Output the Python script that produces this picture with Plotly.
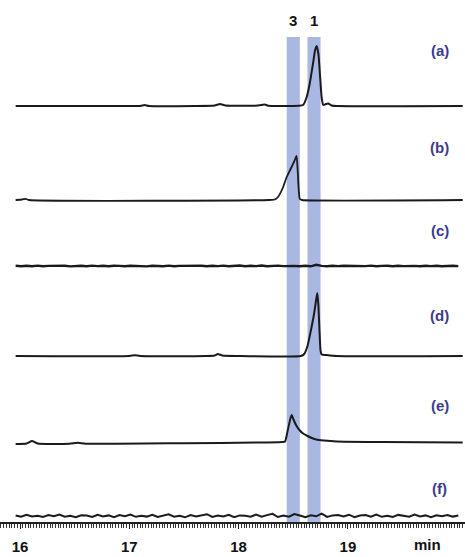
import plotly.graph_objects as go

# ---------------- data (heights above each trace's baseline) -------------
t_a = [15.96, 16.9, 17.10, 17.14, 17.18, 17.6, 17.78, 17.83, 17.88, 18.15, 18.21, 18.24, 18.27,
       18.55, 18.59, 18.62, 18.65, 18.68, 18.70, 18.714, 18.73, 18.745, 18.76, 18.775, 18.80,
       18.82, 18.85, 18.9, 20.05]
h_a = [0, 0, 0, 1, 0, 0, 0.5, 2, 0.5, 0.3, 1, 1.5, 0.3,
       0.3, 1, 8, 22, 42, 56, 60, 52, 30, 8, 1, 2,
       2.5, 0.5, 0, 0]

t_b = [15.96, 16.02, 16.05, 16.08, 18.28, 18.33, 18.36, 18.40, 18.44, 18.48, 18.51, 18.53,
       18.54, 18.55, 18.56, 18.58, 20.05]
h_b = [0, 0.5, 1.2, 0, 0, 0.5, 3, 11, 23, 32, 39, 44,
       30, 10, 1, 0, 0]

c_noise = [0.2, -0.3, 0.3, -0.2, 0.4, -0.3, 0.1, 0.3, -0.2, 0.3, -0.4, 0.1, 0.3, -0.2, 0.4, -0.1,
           0.2, -0.3, 0.3, 0.1, -0.3, 0.3, -0.1, 0.2, -0.4, 0.3, 0.1, -0.2, 0.4, -0.3, 0.1, 0.3,
           -0.2, 0.1, 0.3, -0.3, 0.2, -0.1, 0.4, -0.3, 0.1, 0.5, -0.2, 0.3, -0.1, 0.5, -0.3, 0.2,
           0.4, -0.1, 0.3, 0.1, -0.2, 0.3, -0.3, 1.2, 0.1, -0.3, 0.3, -0.1, 0.3, 0.1, -0.3, 0.2,
           -0.1, 0.4, -0.2, 0.1, 0.3, -0.3, 0.2, -0.1, 0.3, 0.1, -0.3, 0.2, -0.1, 0.3, -0.2, 0.1,
           0.3, -0.1]

t_d = [15.96, 17.0, 17.05, 17.1, 17.7, 17.78, 17.81, 17.85, 18.0, 18.57, 18.60, 18.63, 18.66,
       18.69, 18.71, 18.72, 18.73, 18.74, 18.75, 18.76, 18.8, 18.9, 20.05]
h_d = [0, 0, 0.8, 0, 0, 0.5, 2, 0.5, 0, 0, 2, 10, 25,
       42, 57, 63, 50, 25, 5, 1.5, 1, 0, 0]

t_e = [15.96, 16.06, 16.11, 16.16, 16.45, 16.53, 16.6, 17.5, 18.2, 18.40, 18.425, 18.45, 18.475,
       18.486, 18.50, 18.53, 18.56, 18.59, 18.63, 18.67, 18.71, 18.78, 18.9, 19.3, 20.05]
h_e = [0, 0.5, 3, 0.5, 0.3, 1.2, 0.3, 0.8, 1.5, 2, 2.5, 14, 26,
       29, 25, 18, 13.5, 10.5, 8, 6, 4.5, 3.5, 2.5, 2, 1.5]

f_noise = [0.5, -0.8, 1.2, -0.5, 0.3, -1.0, 0.9, -0.3, 1.4, -0.7, 0.2, -1.1, 0.8, 0.4, -0.9, 1.3,
           -0.4, 0.6, -1.2, 0.9, -0.2, 1.5, -0.8, 0.3, -0.6, 1.1, -1.0, 0.5, 1.6, -0.7, 0.2, -1.3,
           1.0, -0.4, 0.7, 1.8, -0.9, 0.4, -0.5, 1.2, -1.1, 0.6, 0.3, -0.8, 1.4, -0.6, 0.9, 2.2,
           -1.0, 0.4, -0.7, 2.0, 0.5, -1.2, 0.8, -0.3, 2.4, -0.9, 0.6, 1.0, -0.5, 1.3, -1.1, 0.4,
           0.9, -0.6, 1.5, -0.8, 0.3, -1.0, 1.1, 0.2, -0.7, 1.4, -0.4, 0.6, -1.2, 0.8, -0.3, 1.0,
           -0.6, 0.4]

panel_labels = ["(a)", "(b)", "(c)", "(d)", "(e)", "(f)"]
band_labels = ["3", "1"]
band_ranges = [(18.44, 18.56), (18.63, 18.75)]
tick_vals = [16, 17, 18, 19]
tick_text = ["16", "17", "18", "19"]

# ---------------- layout constants ----------------
t_c = [round(15.96 + 0.05 * i, 2) for i in range(len(c_noise))]
t_f = [round(15.96 + 0.05 * i, 2) for i in range(len(f_noise))]

offsets = [416, 322, 256, 166, 78, 6]
label_y = [472, 375, 292, 207, 117, 34]
series = [(t_a, h_a), (t_b, h_b), (t_c, c_noise), (t_d, h_d), (t_e, h_e), (t_f, f_noise)]
widths = [2.0, 1.8, 2.4, 2.0, 2.0, 2.0]
shapes = ["spline", "spline", "linear", "spline", "spline", "linear"]

fig = go.Figure()
for (t, h), off, w, sh in zip(series, offsets, widths, shapes):
    fig.add_trace(go.Scatter(x=t, y=[off + v for v in h], mode="lines",
                             line=dict(color="#1a1a1a", width=w, shape=sh,
                                       **({"smoothing": 0.5} if sh == "spline" else {})),
                             showlegend=False, hoverinfo="skip"))

for (x0, x1), lab in zip(band_ranges, band_labels):
    fig.add_shape(type="rect", xref="x", yref="y", x0=x0, x1=x1, y0=0, y1=485,
                  fillcolor="#a9b8e2", line=dict(width=0), layer="below")
    fig.add_annotation(x=(x0 + x1) / 2, y=502, xref="x", yref="y", text=lab, showarrow=False,
                       font=dict(family="Liberation Sans, Arial", size=15, color="#111111", weight="bold"))

for lab, y in zip(panel_labels, label_y):
    fig.add_annotation(x=19.84, y=y, xref="x", yref="y", text=lab, showarrow=False,
                       font=dict(family="Liberation Sans, Arial", size=15, color="#3b3a8c", weight="bold"))

fig.add_annotation(x=443 / 465, y=-0.044, xref="paper", yref="paper", text="min", showarrow=False,
                   yanchor="middle",
                   font=dict(family="Liberation Sans, Arial", size=15, color="#111111", weight="bold"))

fig.update_layout(
    width=465, height=557,
    margin=dict(l=0, r=0, t=0, b=35),
    plot_bgcolor="white", paper_bgcolor="white",
    xaxis=dict(range=[15.817, 20.071], tickvals=tick_vals, ticktext=tick_text,
               showgrid=False, zeroline=False, showline=True, linecolor="#222222", linewidth=1.5,
               ticks="outside", ticklen=5, tickwidth=1, tickcolor="#222222",
               minor=dict(dtick=0.025, tick0=16, ticks="outside", ticklen=4, tickwidth=1,
                          tickcolor="#333333", showgrid=False),
               ticklabelstandoff=5,
               tickfont=dict(family="Liberation Sans, Arial", size=15, color="#111111", weight="bold")),
    yaxis=dict(range=[0, 522], visible=False, fixedrange=True),
)

fig.write_html("out.html", config={"displayModeBar": False},
               post_script="document.body.style.margin='0';")
